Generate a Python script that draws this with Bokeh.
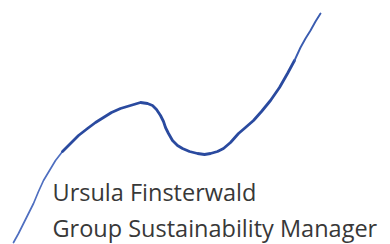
from bokeh.plotting import figure
from bokeh.models import Range1d
from bokeh.core.properties import value
from bokeh.embed import file_html
from bokeh.resources import INLINE

# Signature stroke (image pixel coordinates, y down)
sig_x = [13, 18, 23, 28, 33, 38, 43, 49, 55, 62, 70, 78, 87, 95, 103, 111, 120, 130,
         140, 147, 152, 156, 160, 163, 165, 168, 172, 177, 182, 189, 197, 204, 210,
         217, 223, 230, 238, 245, 253, 261, 270, 279, 287, 294, 300, 305, 310, 315, 320]
sig_y = [242, 233, 223, 213, 203, 191, 180, 170, 160, 151, 143, 135, 128, 122, 117, 112, 108, 105,
         102, 103, 105, 109, 115, 121, 127, 133, 140, 145, 148, 151, 153, 154, 153,
         151, 148, 142, 133, 127, 120, 111, 100, 87, 73, 60, 47, 38, 30, 21, 13]

name_text = "Ursula Finsterwald"
title_text = "Group Sustainability Manager"
text_x = [52, 52]
text_y = [191, 227]

p = figure(width=390, height=244, output_backend="svg", toolbar_location=None,
           x_range=Range1d(0, 390), y_range=Range1d(244, 0),
           min_border=0, outline_line_color=None)
p.axis.visible = False
p.grid.visible = False
p.background_fill_color = "white"
p.border_fill_color = "white"

# lighter thin lower-left part, darker main part, thin top end
p.line(sig_x[:10], sig_y[:10], line_color="#4f6fc0", line_width=1.7, line_cap="round")
p.line(sig_x[9:44], sig_y[9:44], line_color="#2a4a9f", line_width=2.8, line_cap="round", line_join="round")
p.line(sig_x[43:], sig_y[43:], line_color="#3a5cb0", line_width=1.9, line_cap="round")

p.text(x=text_x, y=text_y, text=[name_text, title_text],
       text_font=value("Open Sans"), text_font_size="23.5px",
       text_color="#383838", text_baseline="alphabetic", text_align="left")

open("out.html", "w").write(file_html(p, INLINE))
